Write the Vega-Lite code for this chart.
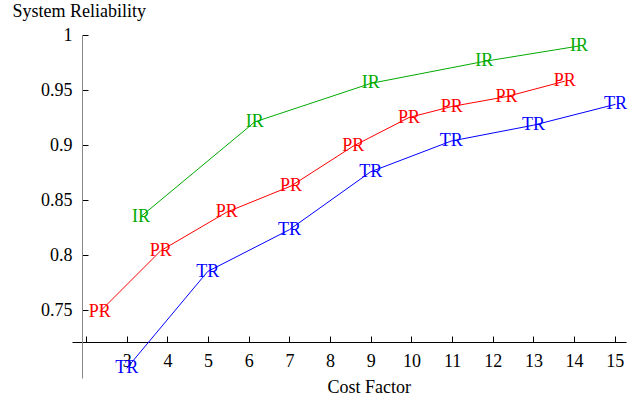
{
  "$schema": "https://vega.github.io/schema/vega-lite/v6.json",
  "autosize": "none",
  "width": 554,
  "height": 343,
  "padding": {"left": 72, "top": 35, "right": 8, "bottom": 22},
  "background": "white",
  "config": {
    "view": {"stroke": null},
    "font": "Liberation Serif",
    "axis": {"grid": false, "labelFont": "Liberation Serif", "titleFont": "Liberation Serif", "labelFontSize": 18, "titleFontSize": 18, "labelColor": "black", "titleColor": "black", "titleFontWeight": "normal", "labelOverlap": false, "labelFlush": false}
  },
  "data": {
    "values": [
      {"series": "IR", "cost": 3.35, "rel": 0.835},
      {"series": "IR", "cost": 6.15, "rel": 0.921},
      {"series": "IR", "cost": 9.0, "rel": 0.956},
      {"series": "IR", "cost": 11.79, "rel": 0.976},
      {"series": "IR", "cost": 14.12, "rel": 0.99},
      {"series": "PR", "cost": 2.34, "rel": 0.7485},
      {"series": "PR", "cost": 3.84, "rel": 0.804},
      {"series": "PR", "cost": 5.46, "rel": 0.839},
      {"series": "PR", "cost": 7.04, "rel": 0.8627},
      {"series": "PR", "cost": 8.57, "rel": 0.899},
      {"series": "PR", "cost": 9.94, "rel": 0.925},
      {"series": "PR", "cost": 10.99, "rel": 0.935},
      {"series": "PR", "cost": 12.34, "rel": 0.944},
      {"series": "PR", "cost": 13.77, "rel": 0.958},
      {"series": "TR", "cost": 3.0, "rel": 0.697},
      {"series": "TR", "cost": 4.99, "rel": 0.785},
      {"series": "TR", "cost": 7.0, "rel": 0.823},
      {"series": "TR", "cost": 9.0, "rel": 0.8757},
      {"series": "TR", "cost": 10.98, "rel": 0.9036},
      {"series": "TR", "cost": 13.0, "rel": 0.918},
      {"series": "TR", "cost": 15.02, "rel": 0.937}
    ]
  },
  "encoding": {
    "x": {
      "field": "cost", "type": "quantitative",
      "scale": {"domain": [1.655, 15.276], "nice": false, "zero": false},
      "axis": {
        "orient": "bottom", "offset": -36,
        "values": [2, 3, 4, 5, 6, 7, 8, 9, 10, 11, 12, 13, 14, 15],
        "labelExpr": "datum.value == 2 ? '' : datum.label",
        "tickSize": -6, "tickColor": "black", "domainColor": "black",
        "labelBaseline": "alphabetic", "labelPadding": 30,
        "title": "Cost Factor", "titleAngle": 0, "titleAlign": "left", "titleBaseline": "alphabetic",
        "titleX": 255, "titleY": 50
      }
    },
    "y": {
      "field": "rel", "type": "quantitative",
      "scale": {"domain": [0.6882, 1.0], "nice": false, "zero": false},
      "axis": {
        "orient": "left", "offset": -10,
        "values": [0.75, 0.8, 0.85, 0.9, 0.95, 1],
        "format": "~g",
        "tickSize": -6, "tickColor": "black", "domainColor": "#888888",
        "labelBaseline": "middle", "labelAlign": "right", "labelPadding": 16,
        "title": "System Reliability", "titleAngle": 0, "titleAlign": "left", "titleBaseline": "alphabetic",
        "titleX": -70, "titleY": -19
      }
    },
    "color": {
      "field": "series", "type": "nominal",
      "scale": {"domain": ["IR", "PR", "TR"], "range": ["#00aa00", "#ff0000", "#0000ff"]},
      "legend": null
    }
  },
  "layer": [
    {"mark": {"type": "line", "strokeWidth": 1}},
    {"mark": {"type": "text", "font": "Liberation Serif", "fontSize": 18, "align": "center", "baseline": "middle"}, "encoding": {"text": {"field": "series"}}}
  ]
}
